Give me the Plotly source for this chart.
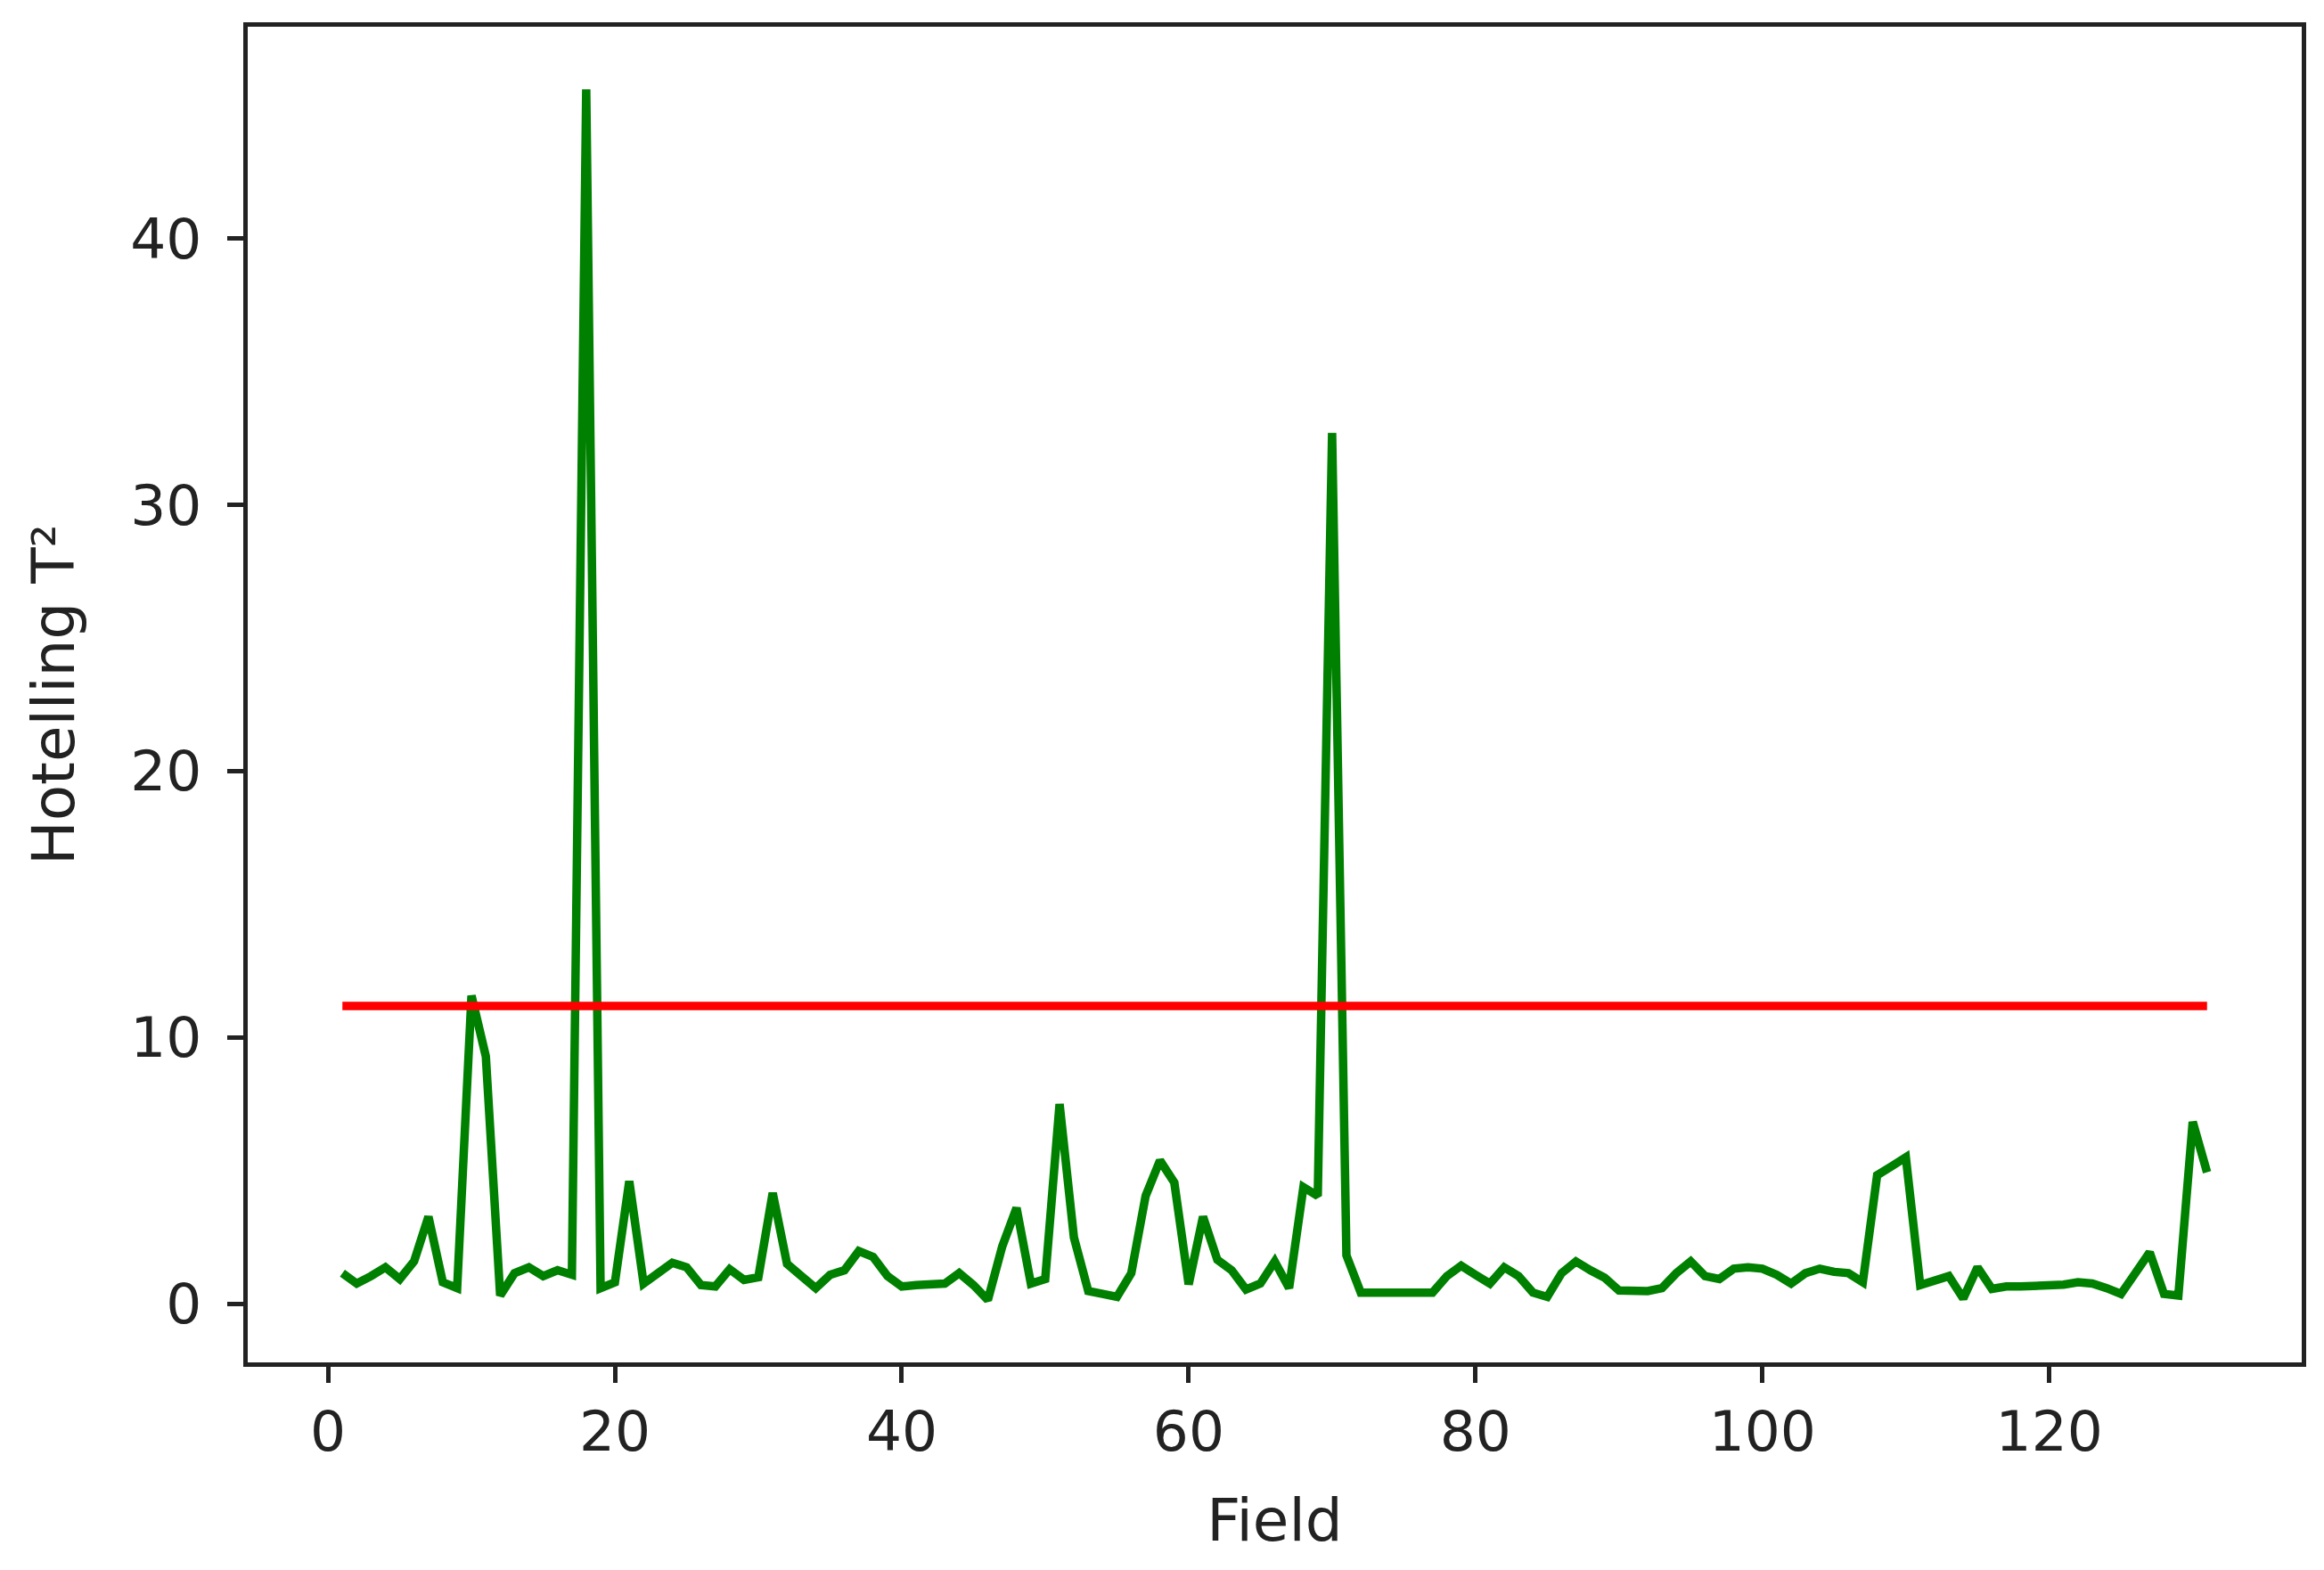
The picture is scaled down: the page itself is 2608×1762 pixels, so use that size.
import plotly.graph_objects as go

# Field index
fields = list(range(1, 132))

# Hotelling T² value per field
t2_values = [
    1.15, 0.76, 1.04, 1.37, 0.93, 1.60, 3.27, 0.81, 0.59, 11.57,
    9.29, 0.31, 1.15, 1.37, 1.04, 1.26, 1.09, 45.60, 0.59, 0.81,
    4.60, 0.76, 1.15, 1.54, 1.37, 0.70, 0.65, 1.30, 0.90, 1.00,
    4.16, 1.50, 1.04, 0.59, 1.09, 1.26, 1.98, 1.76, 1.04, 0.65,
    0.70, 0.72, 0.76, 1.15, 0.70, 0.14, 2.15, 3.60, 0.76, 0.93,
    7.50, 2.49, 0.48, 0.37, 0.26, 1.15, 4.05, 5.38, 4.55, 0.73,
    3.27, 1.65, 1.26, 0.54, 0.76, 1.59, 0.59, 4.38, 4.05, 32.70,
    1.82, 0.42, 0.42, 0.42, 0.42, 0.42, 0.42, 1.04, 1.43, 1.09,
    0.76, 1.37, 1.04, 0.42, 0.26, 1.15, 1.59, 1.26, 0.98, 0.50,
    0.48, 0.48, 0.59, 1.15, 1.59, 1.04, 0.93, 1.32, 1.37, 1.32,
    1.09, 0.76, 1.15, 1.32, 1.20, 1.15, 0.81, 4.83, 5.16, 5.50,
    0.70, 0.87, 1.04, 0.20, 1.37, 0.56, 0.65, 0.65, 0.65, 0.65,
    0.72, 0.81, 0.76, 0.59, 0.37, 1.15, 1.93, 0.37, 0.31, 6.83,
    4.94,
]

# Control limit
threshold = 11.18

x_ticks = [0, 20, 40, 60, 80, 100, 120]
y_ticks = [0, 10, 20, 30, 40]

font_family = "DejaVu Sans"
tick_size = 63
title_size = 66

fig = go.Figure()
fig.add_trace(go.Scatter(
    x=fields, y=t2_values, mode="lines",
    line=dict(color="green", width=9.5),
    showlegend=False, hoverinfo="x+y",
))
fig.add_trace(go.Scatter(
    x=[fields[0], fields[-1]], y=[threshold, threshold], mode="lines",
    line=dict(color="red", width=9.5),
    showlegend=False, hoverinfo="y",
))

axis_common = dict(
    showgrid=False, zeroline=False,
    showline=True, mirror=True, linecolor="#222222", linewidth=5,
    ticks="outside", ticklen=18, tickwidth=5, tickcolor="#222222",
    tickfont=dict(family=font_family, size=tick_size, color="#222222"),
)

fig.update_layout(
    width=2608, height=1762,
    margin=dict(l=270, r=33, t=22, b=241),
    paper_bgcolor="white", plot_bgcolor="white",
    font=dict(family=font_family, size=tick_size, color="#222222"),
    xaxis=dict(
        range=[-5.6, 137.6], tickmode="array", tickvals=x_ticks,
        title=dict(text="Field", font=dict(family=font_family, size=title_size), standoff=43),
        **axis_common,
    ),
    yaxis=dict(
        range=[-2.2, 47.95], tickmode="array", tickvals=y_ticks,
        ticklabelstandoff=16,
        title=dict(text="Hotelling T²", font=dict(family=font_family, size=title_size), standoff=43),
        **axis_common,
    ),
)

fig.write_html("out.html")
